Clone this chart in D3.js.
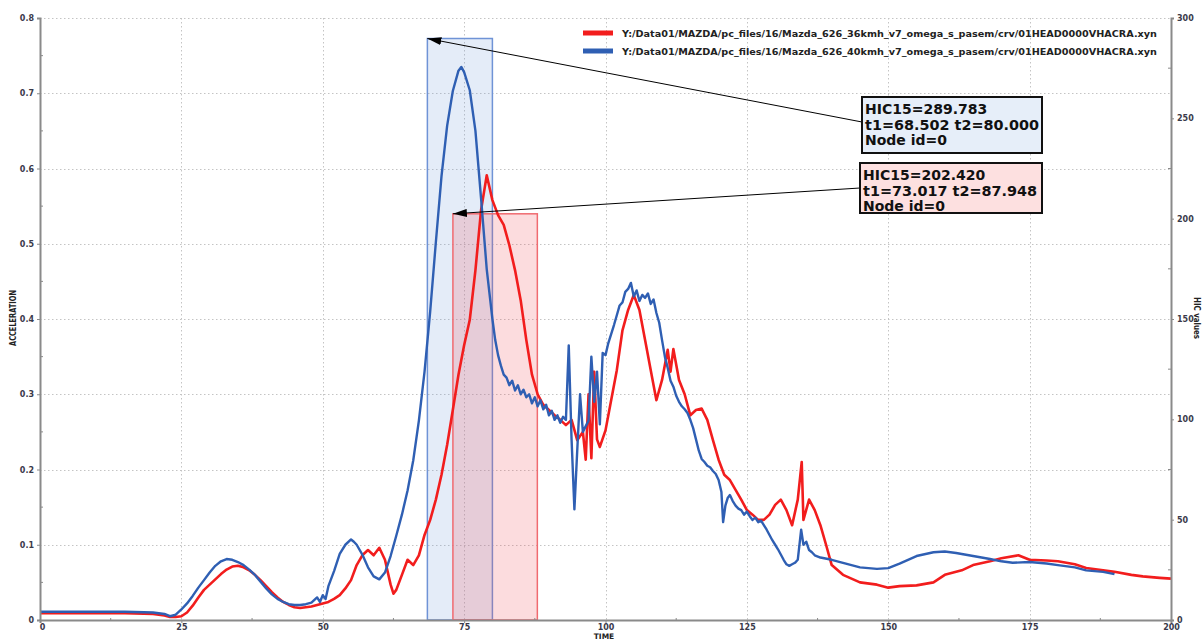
<!DOCTYPE html>
<html><head><meta charset="utf-8">
<script src="https://cdn.jsdelivr.net/npm/d3@7"></script>
<style>
html,body{margin:0;padding:0;background:#fff;}
svg{display:block;font-family:"DejaVu Sans",Verdana,sans-serif;}
</style></head>
<body><svg id="chart" width="1203" height="639"></svg>
<script>
// ---------- data ----------
const xTicks = [0,25,50,75,100,125,150,175,200];
const yTicks = [0,0.1,0.2,0.3,0.4,0.5,0.6,0.7,0.8];
const hicTicks = [0,50,100,150,200,250,300];
const legendLabels = [
  "Y:/Data01/MAZDA/pc_files/16/Mazda_626_36kmh_v7_omega_s_pasem/crv/01HEAD0000VHACRA.xyn",
  "Y:/Data01/MAZDA/pc_files/16/Mazda_626_40kmh_v7_omega_s_pasem/crv/01HEAD0000VHACRA.xyn"
];
const seriesColors = ["#f21d1d","#2f5fb3"];
// HIC results
const hicRed  = {t1:73.017, t2:87.948, hic:202.420};
const hicBlue = {t1:68.502, t2:80.000, hic:289.783};

// time (ms) / acceleration  - 40 km/h (blue)
const blueT = [0,5,10,15,20,22,23,24,25,26,27,28,29,30,31,32,33,34,35,36,37,38,39,40,41,42,43,44,45,46,47,48,49,49.5,50,50.5,51,52,53,54,55,55.5,56,57,58,59,60,61,62,63,64,65,66,67,68,69,70,71,72,73,74,74.5,75,76,77,78,79,
  80,80.5,81,81.5,82,82.5,83,83.5,84,84.5,85,85.5,86,86.5,87,87.5,88,88.5,89,89.5,90,90.5,91,91.5,92,92.5,93,93.5,94,94.5,95,95.5,96,97,97.5,98,98.5,99,99.5,
  100,100.5,101,101.5,102,102.5,103,103.5,104,104.5,105,105.5,106,106.5,107,107.5,108,108.5,109,109.5,110,110.5,111,111.5,112,112.5,113,113.5,114,114.5,115,115.5,116,116.5,117,117.5,118,118.5,119,119.5,120,120.5,120.8,121.2,121.6,122,122.5,123,123.5,124,124.5,125,125.5,126,126.5,127,127.5,128,128.5,129,129.5,130,130.5,131,131.5,132,132.5,133,133.5,134,134.6,135,135.5,136,136.5,137,138,140,142,145,148,150,152,155,158,160,162,165,168,170,172,175,178,180,183,185,188,190];
const blueA = [0.011,0.011,0.011,0.011,0.010,0.008,0.005,0.007,0.014,0.022,0.032,0.043,0.053,0.063,0.072,0.078,0.081,0.080,0.077,0.073,0.067,0.060,0.051,0.042,0.034,0.028,0.024,0.021,0.020,0.020,0.021,0.023,0.030,0.024,0.033,0.028,0.045,0.065,0.088,0.100,0.107,0.104,0.100,0.087,0.070,0.058,0.054,0.063,0.085,0.112,0.140,0.172,0.212,0.265,0.330,0.410,0.502,0.590,0.657,0.703,0.730,0.735,0.728,0.704,0.650,0.560,0.466,
  0.400,0.372,0.352,0.338,0.326,0.322,0.312,0.318,0.305,0.312,0.300,0.306,0.296,0.300,0.288,0.296,0.284,0.292,0.280,0.286,0.272,0.278,0.266,0.272,0.262,0.270,0.266,0.365,0.240,0.147,0.225,0.300,0.250,0.265,0.350,0.290,0.330,0.260,0.355,
  0.352,0.368,0.380,0.392,0.405,0.418,0.422,0.436,0.440,0.448,0.430,0.438,0.424,0.432,0.428,0.434,0.420,0.426,0.408,0.395,0.372,0.350,0.335,0.318,0.310,0.298,0.290,0.284,0.280,0.275,0.266,0.255,0.240,0.225,0.214,0.210,0.205,0.203,0.198,0.194,0.186,0.170,0.130,0.152,0.162,0.166,0.158,0.152,0.148,0.146,0.140,0.144,0.138,0.133,0.136,0.130,0.132,0.126,0.120,0.113,0.106,0.100,0.094,0.087,0.080,0.074,0.072,0.074,0.076,0.080,0.120,0.100,0.104,0.093,0.090,0.086,0.083,0.080,0.076,0.070,0.068,0.069,0.075,0.085,0.090,0.091,0.089,0.085,0.081,0.078,0.076,0.077,0.075,0.073,0.070,0.066,0.064,0.061];

// time (ms) / acceleration  - 36 km/h (red)
const redT = [0,5,10,15,20,22,23,24,25,26,27,28,29,30,31,32,33,34,35,36,37,38,39,40,41,42,43,44,45,46,47,48,49,50,51,52,53,54,55,56,57,58,59,60,61,62,62.5,63,64,65,66,67,68,69,70,71,72,73,74,75,76,77,78,79,80,81,82,83,84,85,86,87,88,89,90,91,92,93,94,95,96,96.5,97,97.5,98,98.5,99,100,101,102,103,104,105,106,107,108,109,110,111,111.5,112,113,114,115,116,117,118,119,120,121,122,123,124,125,126,127,128,129,130,131,132,133,134,134.7,135,136,137,138,139,140,142,145,148,150,152,155,158,160,163,165,168,170,173,175,178,180,183,185,188,190,193,195,198,200];
const redA = [0.009,0.009,0.009,0.009,0.008,0.006,0.004,0.004,0.005,0.010,0.019,0.030,0.040,0.047,0.054,0.061,0.067,0.071,0.072,0.070,0.066,0.060,0.053,0.045,0.037,0.030,0.024,0.020,0.017,0.016,0.017,0.018,0.020,0.022,0.024,0.028,0.033,0.042,0.053,0.073,0.086,0.093,0.086,0.096,0.080,0.047,0.035,0.040,0.060,0.080,0.073,0.086,0.113,0.133,0.160,0.193,0.233,0.279,0.326,0.365,0.399,0.465,0.545,0.591,0.558,0.538,0.525,0.498,0.465,0.425,0.372,0.326,0.300,0.286,0.279,0.272,0.266,0.259,0.266,0.239,0.250,0.213,0.300,0.215,0.330,0.240,0.230,0.252,0.292,0.332,0.385,0.412,0.432,0.412,0.372,0.332,0.292,0.319,0.359,0.330,0.360,0.319,0.300,0.272,0.279,0.281,0.266,0.239,0.213,0.193,0.186,0.173,0.160,0.146,0.140,0.133,0.133,0.140,0.153,0.160,0.146,0.126,0.160,0.210,0.133,0.160,0.146,0.126,0.100,0.073,0.060,0.050,0.047,0.043,0.045,0.046,0.050,0.060,0.066,0.073,0.078,0.082,0.086,0.080,0.079,0.078,0.074,0.069,0.066,0.064,0.060,0.058,0.056,0.055];

// ---------- chart ----------
const svg = d3.select("#chart");
const L = 40, R = 1171, T = 18, B = 620;
const x = d3.scaleLinear().domain([0,200]).range([L,R]);
const y = d3.scaleLinear().domain([0,0.8]).range([B,T]);
const yH = d3.scaleLinear().domain([0,300]).range([B,T]);

// grid
const grid = svg.append("g").attr("stroke","#c4c4c4").attr("stroke-width",1).attr("stroke-dasharray","1.5,2.5");
grid.selectAll(".gx").data(xTicks.slice(1,-1)).join("line")
  .attr("x1",d=>Math.round(x(d))+0.5).attr("x2",d=>Math.round(x(d))+0.5).attr("y1",T).attr("y2",B);
grid.selectAll(".gy").data(yTicks.slice(1)).join("line")
  .attr("y1",d=>Math.round(y(d))+0.5).attr("y2",d=>Math.round(y(d))+0.5).attr("x1",L).attr("x2",R);

// HIC rectangles
svg.append("defs").append("clipPath").attr("id","clip").append("rect")
  .attr("x",L).attr("y",T-2).attr("width",R-L).attr("height",B-T+2);
const rects = [{h:hicBlue,fill:"rgba(120,160,220,0.2)",stroke:"#6f93d6"},{h:hicRed,fill:"rgba(240,80,90,0.2)",stroke:"#f06a70"}];
svg.append("g").selectAll("rect").data(rects).join("rect")
  .attr("x",d=>x(d.h.t1)).attr("width",d=>x(d.h.t2)-x(d.h.t1))
  .attr("y",d=>yH(d.h.hic)).attr("height",d=>B-yH(d.h.hic))
  .attr("fill",d=>d.fill).attr("stroke",d=>d.stroke).attr("stroke-width",1.5);

// lines
const line = d3.line().x(d=>x(d[0])).y(d=>y(d[1]));
const redData = redT.map((t,i)=>[t,redA[i]]);
const blueData = blueT.map((t,i)=>[t,blueA[i]]);
const lg = svg.append("g").attr("clip-path","url(#clip)");
lg.append("path").datum(redData).attr("d",line).attr("fill","none").attr("stroke",seriesColors[0]).attr("stroke-width",2.6).attr("stroke-linejoin","round");
lg.append("path").datum(blueData).attr("d",line).attr("fill","none").attr("stroke",seriesColors[1]).attr("stroke-width",2.4).attr("stroke-linejoin","round");

// axes
const axCol = "#8a8a8a", lblCol = "#3a3a4a";
function styleAxis(g){
  g.select(".domain").attr("stroke",axCol).attr("stroke-width",2);
  g.selectAll(".tick line").attr("stroke",axCol).attr("stroke-width",1);
  g.selectAll(".tick text").attr("fill",lblCol).attr("font-size",8).attr("font-weight","bold").attr("font-family","DejaVu Sans, Verdana, sans-serif");
}
const ax = svg.append("g").attr("transform",`translate(0,${B})`)
  .call(d3.axisBottom(x).tickValues(xTicks).tickFormat(d3.format("d")).tickSize(3).tickPadding(1));
styleAxis(ax);
ax.selectAll(".tick").filter(d=>d===0).select("text").attr("dx",2);
svg.append("g").selectAll("line").data(d3.range(12.5,200,25)).join("line")
  .attr("x1",d=>x(d)).attr("x2",d=>x(d)).attr("y1",B-2).attr("y2",B).attr("stroke",axCol);

const ayl = svg.append("g").attr("transform",`translate(${L},0)`)
  .call(d3.axisLeft(y).tickValues(yTicks).tickFormat(d=>d===0?"0":d3.format(".1f")(d)).tickSize(3).tickPadding(3));
styleAxis(ayl);
svg.append("g").selectAll("line").data(d3.range(0.05,0.8,0.1)).join("line")
  .attr("x1",L).attr("x2",L+3).attr("y1",d=>y(d)).attr("y2",d=>y(d)).attr("stroke",axCol);

const ayr = svg.append("g").attr("transform",`translate(${R},0)`)
  .call(d3.axisRight(yH).tickValues(hicTicks).tickSize(3).tickPadding(3));
styleAxis(ayr);
svg.append("g").selectAll("line").data(d3.range(25,300,50)).join("line")
  .attr("x1",R-3).attr("x2",R).attr("y1",d=>yH(d)).attr("y2",d=>yH(d)).attr("stroke",axCol);

// axis titles
svg.append("text").attr("transform","translate(16,318) rotate(-90)").attr("text-anchor","middle")
  .attr("font-size",8).attr("font-weight","bold").attr("fill","#222").attr("textLength",56).attr("lengthAdjust","spacingAndGlyphs").text("ACCELERATION");
svg.append("text").attr("transform","translate(1194,318) rotate(90)").attr("text-anchor","middle")
  .attr("font-size",8).attr("font-weight","bold").attr("fill","#222").attr("textLength",42).attr("lengthAdjust","spacingAndGlyphs").text("HIC values");
svg.append("text").attr("x",604).attr("y",638.5).attr("text-anchor","middle")
  .attr("font-size",7.5).attr("font-weight","bold").attr("fill","#222").text("TIME");

// legend
const leg = svg.append("g");
legendLabels.forEach((lab,i)=>{
  const yy = 33 + i*18;
  leg.append("line").attr("x1",583).attr("x2",613).attr("y1",yy).attr("y2",yy).attr("stroke",seriesColors[i]).attr("stroke-width",5);
  leg.append("text").attr("x",622).attr("y",yy+3.5).attr("font-size",9.5).attr("font-weight","bold").attr("fill","#222")
    .attr("textLength",535).attr("lengthAdjust","spacingAndGlyphs").text(lab);
});

// annotation boxes with arrows
const defs = svg.select("defs");
defs.append("marker").attr("id","arr").attr("viewBox","0 0 14 8").attr("refX",14).attr("refY",4)
  .attr("markerWidth",14).attr("markerHeight",8).attr("markerUnits","userSpaceOnUse").attr("orient","auto")
  .append("path").attr("d","M0,0 L14,4 L0,8 Z").attr("fill","#000");
const notes = [
  {h:hicBlue, bx:862, by:97, bw:180, bh:56, fill:"#e6eef9", ay:122},
  {h:hicRed,  bx:860, by:163, bw:182, bh:50, fill:"#fde0e0", ay:188}
];
notes.forEach(n=>{
  svg.append("line").attr("x1",n.bx).attr("y1",n.ay).attr("x2",x(n.h.t1)).attr("y2",yH(n.h.hic))
    .attr("stroke","#000").attr("stroke-width",1).attr("marker-end","url(#arr)");
  svg.append("rect").attr("x",n.bx).attr("y",n.by).attr("width",n.bw).attr("height",n.bh)
    .attr("fill",n.fill).attr("stroke","#111").attr("stroke-width",2);
  const lines = [`HIC15=${n.h.hic.toFixed(3)}`, `t1=${n.h.t1.toFixed(3)} t2=${n.h.t2.toFixed(3)}`, "Node id=0"];
  lines.forEach((s,i)=>{
    svg.append("text").attr("x",n.bx+3).attr("y",n.by+17+i*15.5).attr("font-size",14).attr("font-weight","bold").attr("fill","#111")
      .attr("textLength", i===1?174:null).attr("lengthAdjust","spacingAndGlyphs").text(s);
  });
});
</script></body></html>
